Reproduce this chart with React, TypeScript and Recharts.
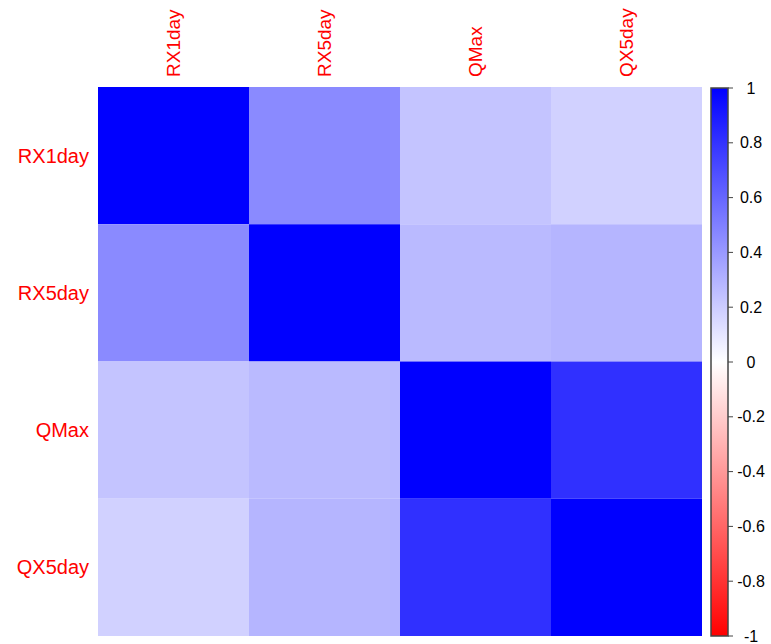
import { BarChart, Bar, Cell, XAxis, YAxis } from "recharts";

const vars = ["RX1day", "RX5day", "QMax", "QX5day"];

// correlation matrix, row by row
const rowRX1day = [1, 0.46, 0.23, 0.18];
const rowRX5day = [0.46, 1, 0.27, 0.29];
const rowQMax = [0.23, 0.27, 1, 0.81];
const rowQX5day = [0.18, 0.29, 0.81, 1];
const corrRows = [rowRX1day, rowRX5day, rowQMax, rowQX5day];

const legendTicks = [-1, -0.8, -0.6, -0.4, -0.2, 0, 0.2, 0.4, 0.6, 0.8, 1];

const FONT = "'Liberation Sans', Arial, sans-serif";

// red - white - blue ramp
function corrColor(v: number) {
    if (v >= 0) {
        const c = Math.round(255 * (1 - v));
        return `rgb(${c},${c},255)`;
    }
    const c = Math.round(255 * (1 + v));
    return `rgb(255,${c},${c})`;
}

// one column per variable, stacked with one unit segment per row
const tableData = vars.map((name) => {
    const d: any = { name };
    vars.forEach((_, row) => {
        d["r" + row] = 1;
    });
    return d;
});

const legendData = [{ name: "legend", range: [-1, 1] }];

function TopTick(props: any) {
    const { x, y, payload } = props;
    const ty = y - 2;
    return (
        <text
            x={0}
            y={0}
            transform={`translate(${x} ${ty}) rotate(-90)`}
            dy="0.35em"
            textAnchor="start"
            fill="#ff0000"
            fontSize={19}
            fontFamily={FONT}
        >
            {payload.value}
        </text>
    );
}

function LeftTick(props: any) {
    const { x, y, payload } = props;
    return (
        <text
            x={x - 1}
            y={y}
            dy="0.35em"
            textAnchor="end"
            fill="#ff0000"
            fontSize={20}
            fontFamily={FONT}
        >
            {vars[Math.floor(payload.value)]}
        </text>
    );
}

function LegendTick(props: any) {
    const { x, y, payload } = props;
    return (
        <text
            x={x + 16}
            y={y}
            dy="0.35em"
            textAnchor="middle"
            fill="#000"
            fontSize={16}
            fontFamily={FONT}
        >
            {payload.value}
        </text>
    );
}

export default function App() {
    return (
        <div style={{ position: "absolute", left: 0, top: 0, width: 771, height: 644, background: "white" }}>
            <div style={{ position: "absolute", left: 0, top: 0 }}>
                <BarChart
                    width={771}
                    height={644}
                    data={tableData}
                    margin={{ top: 0, left: 0, right: 69, bottom: 8 }}
                    barCategoryGap={0}
                >
                    <XAxis
                        dataKey="name"
                        orientation="top"
                        height={87}
                        axisLine={false}
                        tickLine={false}
                        tick={<TopTick />}
                        interval={0}
                    />
                    <YAxis
                        type="number"
                        domain={[0, 4]}
                        reversed
                        ticks={[0.5, 1.5, 2.5, 3.5]}
                        width={98}
                        axisLine={false}
                        tickLine={false}
                        tick={<LeftTick />}
                        interval={0}
                    />
                    {corrRows.map((row, r) => (
                        <Bar key={r} dataKey={"r" + r} stackId="m" isAnimationActive={false}>
                            {row.map((v, c) => (
                                <Cell key={c} fill={corrColor(v)} />
                            ))}
                        </Bar>
                    ))}
                </BarChart>
            </div>
            <div style={{ position: "absolute", left: 0, top: 0 }}>
                <BarChart
                    width={771}
                    height={644}
                    data={legendData}
                    margin={{ top: 88, left: 711, right: 0, bottom: 8 }}
                    barCategoryGap={0}
                >
                    <defs>
                        <linearGradient id="rwb" x1="0" y1="0" x2="0" y2="1">
                            <stop offset="0%" stopColor="#0000ff" />
                            <stop offset="50%" stopColor="#ffffff" />
                            <stop offset="100%" stopColor="#ff0000" />
                        </linearGradient>
                    </defs>
                    <XAxis dataKey="name" hide />
                    <YAxis
                        orientation="right"
                        type="number"
                        domain={[-1, 1]}
                        ticks={legendTicks}
                        width={43}
                        axisLine={false}
                        tickLine={{ stroke: "#444" }}
                        tickSize={5}
                        tick={<LegendTick />}
                        interval={0}
                    />
                    <Bar
                        dataKey="range"
                        fill="url(#rwb)"
                        stroke="#444"
                        strokeWidth={1.5}
                        isAnimationActive={false}
                    />
                </BarChart>
            </div>
        </div>
    );
}
